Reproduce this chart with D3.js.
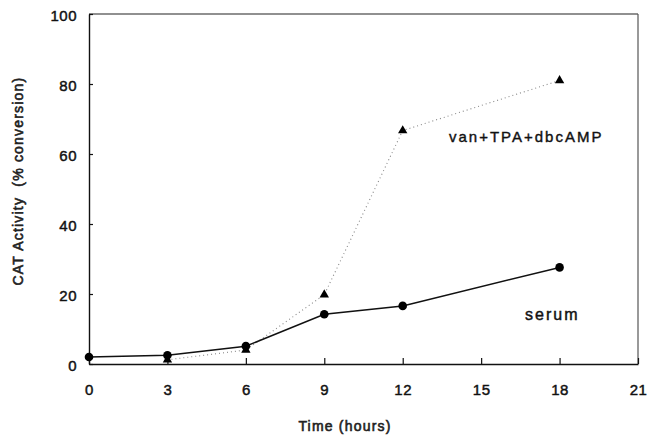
<!DOCTYPE html>
<html>
<head>
<meta charset="utf-8">
<script src="https://cdn.jsdelivr.net/npm/d3@7"></script>
<style>
  html, body { margin: 0; padding: 0; background: #fff; }
  svg { display: block; font-family: "Liberation Sans", Arial, sans-serif; }
</style>
</head>
<body>
<svg id="chart" width="648" height="438"></svg>
<script>
// ---- data ----
const xTicks = [0, 3, 6, 9, 12, 15, 18, 21];
const yTicks = [0, 20, 40, 60, 80, 100];
const serumTime = [0, 3, 6, 9, 12, 18];
const serumValues = [2.0, 2.5, 5.1, 14.2, 16.6, 27.6];
const vanTime = [3, 6, 9, 12, 18];
const vanValues = [1.2, 4.0, 19.8, 66.7, 81.0];
const seriesLabels = ["serum", "van+TPA+dbcAMP"];
const xTitle = "Time (hours)";
const yTitle = "CAT Activity  (% conversion)";

(function () {
const svg = d3.select("#chart");
const mLeft = 89, mRight = 638, mTop = 14, mBottom = 364;
const x = d3.scaleLinear().domain([0, 21]).range([mLeft, mRight]);
const y = d3.scaleLinear().domain([0, 100]).range([mBottom, mTop]);

// frame (top & right)
svg.append("line").attr("x1", mLeft).attr("x2", mRight).attr("y1", mTop).attr("y2", mTop)
  .attr("stroke", "#222").attr("stroke-width", 1.2);
svg.append("line").attr("x1", mRight).attr("x2", mRight).attr("y1", mTop).attr("y2", mBottom)
  .attr("stroke", "#555").attr("stroke-width", 1.2);

// axes
const xAxis = d3.axisBottom(x).tickValues(xTicks).tickSizeInner(-6).tickSizeOuter(0).tickPadding(20);
const gx = svg.append("g").attr("transform", `translate(0,${mBottom})`).call(xAxis);
const yAxis = d3.axisLeft(y).tickValues(yTicks).tickSizeInner(-4).tickSizeOuter(0).tickPadding(12);
const gy = svg.append("g").attr("transform", `translate(${mLeft},0)`).call(yAxis);
[gx, gy].forEach(g => {
  g.select(".domain").attr("stroke", "#111").attr("stroke-width", 1.4);
  g.selectAll(".tick line").attr("stroke", "#111").attr("stroke-width", 1.2);
  g.selectAll(".tick text").attr("fill", "#111").style("font-size", "15px")
    .style("font-family", "'Liberation Sans', Arial, sans-serif").style("letter-spacing", "0.5px")
    .attr("stroke", "#111").attr("stroke-width", 0.45);
});
gy.selectAll(".tick text").attr("dy", "0.45em");

// van line (dotted)
const lineVan = d3.line().x((d, i) => x(vanTime[i])).y(d => y(d));
svg.append("path").datum(vanValues).attr("d", lineVan)
  .attr("fill", "none").attr("stroke", "#888").attr("stroke-width", 1.1)
  .attr("stroke-dasharray", "1,3");

// serum line (solid)
const lineSerum = d3.line().x((d, i) => x(serumTime[i])).y(d => y(d));
svg.append("path").datum(serumValues).attr("d", lineSerum)
  .attr("fill", "none").attr("stroke", "#111").attr("stroke-width", 1.5);

// triangles
const tri = d3.symbol().type(d3.symbolTriangle).size(38);
svg.selectAll("path.tri").data(vanValues).enter().append("path").attr("class", "tri")
  .attr("d", tri)
  .attr("transform", (d, i) => `translate(${x(vanTime[i])},${y(d)})`)
  .attr("fill", "#000");

// circles
svg.selectAll("circle.pt").data(serumValues).enter().append("circle").attr("class", "pt")
  .attr("cx", (d, i) => x(serumTime[i])).attr("cy", d => y(d)).attr("r", 4.3)
  .attr("fill", "#000");

// series labels
svg.append("text").attr("x", 525).attr("y", 320).text(seriesLabels[0])
  .style("font-size", "16px").style("letter-spacing", "2px").attr("fill", "#111")
  .attr("stroke", "#111").attr("stroke-width", 0.45);
svg.append("text").attr("x", 449).attr("y", 142).text(seriesLabels[1])
  .style("font-size", "15px").style("letter-spacing", "2px").attr("fill", "#111")
  .attr("stroke", "#111").attr("stroke-width", 0.4);

// axis titles
svg.append("text").attr("x", 345).attr("y", 431).attr("text-anchor", "middle").text(xTitle)
  .style("font-size", "14px").style("letter-spacing", "1.2px").attr("fill", "#222")
  .attr("stroke", "#222").attr("stroke-width", 0.6);
svg.append("text").attr("transform", "translate(23,181) rotate(-90)").attr("text-anchor", "middle")
  .text(yTitle).style("font-size", "14px").style("letter-spacing", "1.2px")
  .style("white-space", "pre").attr("fill", "#222")
  .attr("stroke", "#222").attr("stroke-width", 0.6);
})();
</script>
</body>
</html>
